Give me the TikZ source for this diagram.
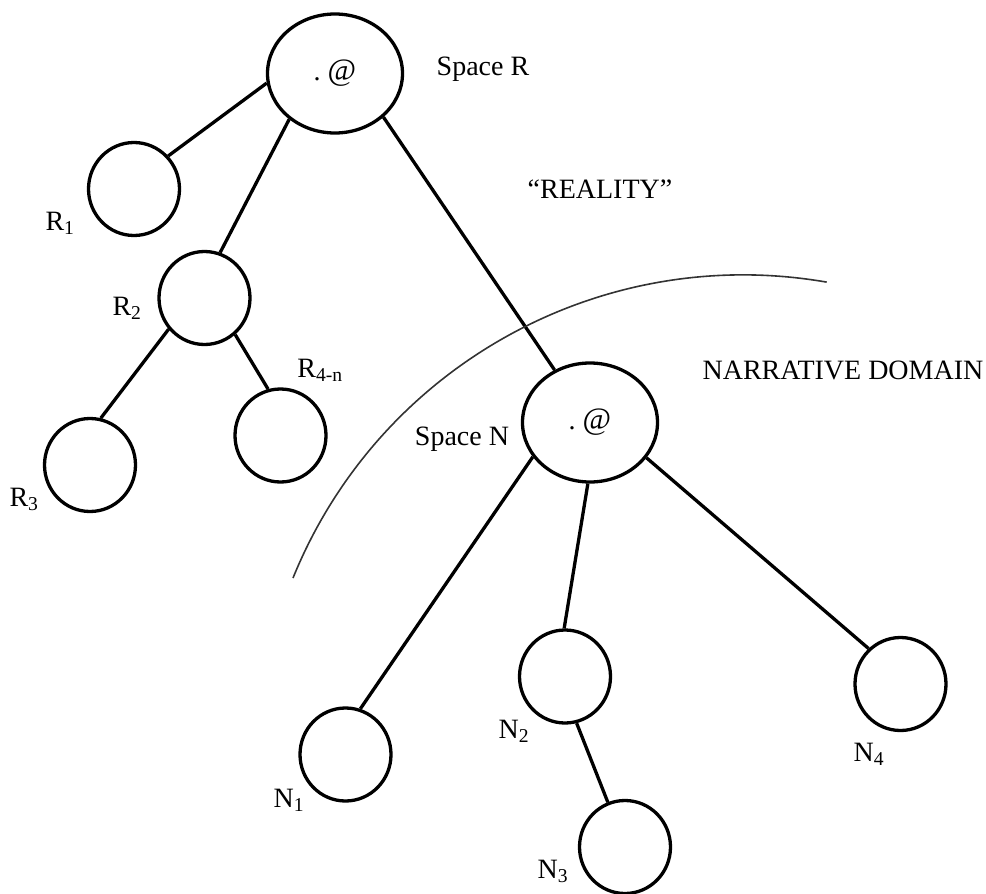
\documentclass[tikz,border=0pt]{standalone}
\usepackage{fontspec}
\setmainfont{Liberation Serif}
\usetikzlibrary{shapes.geometric}

\begin{document}
\begin{tikzpicture}[x=1pt,y=-1pt,
  every node/.style={font=\fontsize{28}{34}\selectfont},
  space/.style={draw,ellipse,line width=3.3pt,minimum width=135pt,minimum height=119pt,inner sep=0pt},
  sub/.style={draw,ellipse,line width=3.3pt,minimum width=91pt,minimum height=93pt,inner sep=0pt},
  link/.style={line width=3.3pt},
  lbl/.style={anchor=base,inner sep=0pt}]
\useasboundingbox (0,0) rectangle (986,894);
% the two spaces
\node[space] (spaceR) at (335,73.5) {.\ \fontsize{31}{34}\selectfont @};
\node[space] (spaceN) at (590,422.5) {.\ \fontsize{31}{34}\selectfont @};
% reality side
\node[sub] (R1) at (134,189) {};
\node[sub] (R2) at (204.5,298) {};
\node[sub] (R3) at (90,465) {};
\node[sub] (R4n) at (280.5,435.5) {};
% narrative side
\node[sub] (N1) at (345.5,754.5) {};
\node[sub] (N2) at (565,676.5) {};
\node[sub] (N3) at (625,847) {};
\node[sub] (N4) at (900.5,684) {};
% links
\draw[link] (spaceR.188) -- (R1.44);
\draw[link] (spaceR.225) -- (R2.71);
\draw[link] (spaceR.318) -- (spaceN.124);
\draw[link] (R2.221) -- (R3.77);
\draw[link] (R2.310) -- (R4n.105);
\draw[link] (spaceN.211) -- (N1.72);
\draw[link] (spaceN.268) -- (N2.91);
\draw[link] (spaceN.328) -- (N4.132);
\draw[link] (N2.284) -- (N3.111);
% boundary
\coordinate (arcstart) at (293,578);
\draw[line width=1.6pt,black!80] (arcstart) arc[start angle=202.1,end angle=279.9,radius=485.9];
% labels
\node[lbl] (lspaceR) at (483,75) {Space R};
\node[lbl] (lreal) at (600,198) {“REALITY”};
\node[lbl] (lnarr) at (843,379) {NARRATIVE DOMAIN};
\node[lbl] (lspaceN) at (462,445) {Space N};
\node[lbl] (lR1) at (60,230) {R\textsubscript{1}};
\node[lbl] (lR2) at (127,315) {R\textsubscript{2}};
\node[lbl] (lR3) at (24,506) {R\textsubscript{3}};
\node[lbl] (lR4n) at (320,377) {R\textsubscript{4-n}};
\node[lbl] (lN1) at (289,807) {N\textsubscript{1}};
\node[lbl] (lN2) at (514,738) {N\textsubscript{2}};
\node[lbl] (lN3) at (553,878) {N\textsubscript{3}};
\node[lbl] (lN4) at (869,761) {N\textsubscript{4}};
\end{tikzpicture}
\end{document}
